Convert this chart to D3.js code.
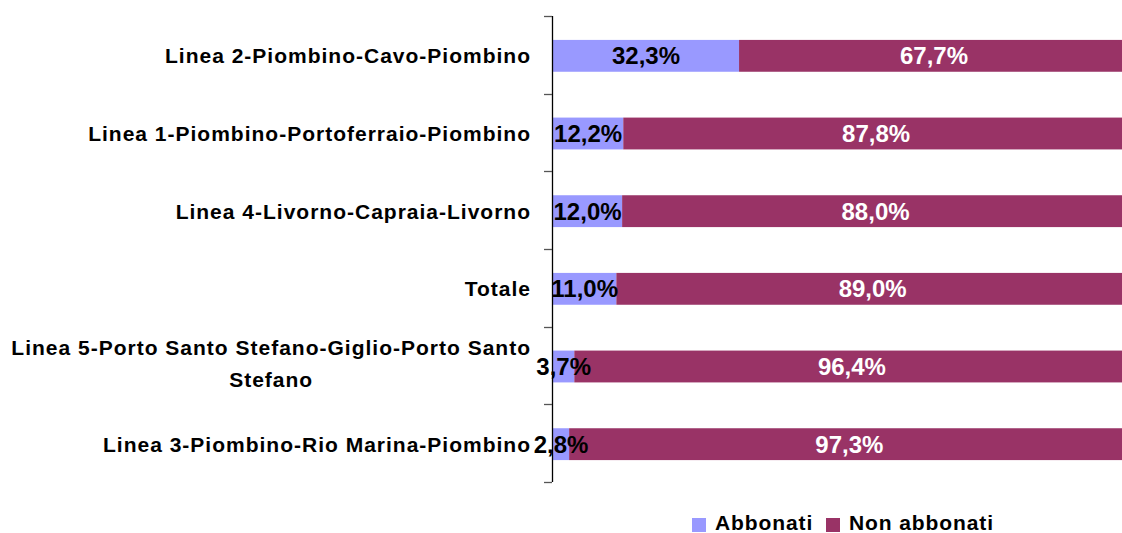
<!DOCTYPE html>
<html>
<head>
<meta charset="utf-8">
<script src="https://cdn.jsdelivr.net/npm/d3@7"></script>
<style>
	body { margin: 0; background: #fff; }
	svg { display: block; }
</style>
</head>
<body>
<div id="chart"></div>
<script>
var categories = [
	"Linea 2-Piombino-Cavo-Piombino",
	"Linea 1-Piombino-Portoferraio-Piombino",
	"Linea 4-Livorno-Capraia-Livorno",
	"Totale",
	"Linea 5-Porto Santo Stefano-Giglio-Porto Santo Stefano",
	"Linea 3-Piombino-Rio Marina-Piombino"
];
var abbonati = [32.3, 12.2, 12.0, 11.0, 3.7, 2.8];
var nonAbbonati = [67.7, 87.8, 88.0, 89.0, 96.4, 97.3];
var seriesNames = ["Abbonati", "Non abbonati"];

var width = 1122,
	height = 533;

var colors = ["#9999ff", "#993366"],
	labelColors = ["#000", "#fff"],
	fontFamily = "'Liberation Sans', Arial, Helvetica, sans-serif";

var svg = d3.select("#chart").append("svg")
	.attr("width", width)
	.attr("height", height);

var x = d3.scaleLinear()
	.domain([0, 100])
	.range([553, 1129]);

var y = d3.scaleBand()
	.domain(categories)
	.range([16, 482])
	.paddingInner(0.59)
	.paddingOuter(0.295);

var rows = categories.map(function(c, i) {
	return { cat: c, values: [abbonati[i], nonAbbonati[i]] };
});

var group = svg.append("g");

// stacked segments
rows.forEach(function(row) {
	var start = 0;
	row.values.forEach(function(v, k) {
		var x0 = x(start), x1 = x(start + v);
		group.append("rect")
			.attr("x", x0)
			.attr("y", y(row.cat) + 1)
			.attr("width", x1 - x0)
			.attr("height", y.bandwidth())
			.style("fill", colors[k]);
		start += v;
	});
});

// data labels
rows.forEach(function(row) {
	var start = 0;
	row.values.forEach(function(v, k) {
		group.append("text")
			.attr("x", (x(start) + x(start + v)) / 2)
			.attr("y", y(row.cat) + 1 + y.bandwidth() / 2)
			.attr("dy", "0.36em")
			.style("fill", labelColors[k])
			.style("font-family", fontFamily)
			.style("font-weight", "bold")
			.style("font-size", "24px")
			.style("text-anchor", "middle")
			.text(d3.format(".1f")(v).replace(".", ",") + "%");
		start += v;
	});
});

// axis line with ticks on band boundaries
var boundaries = categories.map(function(c) { return y(c) - y.step() * y.paddingInner() / 2; });
boundaries.push(y.range()[1]);

group.append("line")
	.attr("x1", 552.5)
	.attr("x2", 552.5)
	.attr("y1", y.range()[0])
	.attr("y2", y.range()[1])
	.style("stroke", "#000")
	.style("stroke-width", 1.3);

boundaries.forEach(function(b) {
	group.append("line")
		.attr("x1", 544)
		.attr("x2", 552)
		.attr("y1", Math.round(b) + 0.5)
		.attr("y2", Math.round(b) + 0.5)
		.style("stroke", "#555")
		.style("stroke-width", 1.3);
});

// category labels, wrapped and centred as a block aligned right
var maxLabel = 528;
categories.forEach(function(c) {
	var text = group.append("text")
		.style("fill", "#000")
		.style("font-family", fontFamily)
		.style("font-weight", "bold")
		.style("font-size", "21px")
		.style("letter-spacing", "1px")
		.style("text-anchor", "middle");

	var words = c.split(" "),
		lines = [],
		current = [];
	var probe = text.append("tspan");
	words.forEach(function(w) {
		current.push(w);
		probe.text(current.join(" "));
		if (probe.node().getComputedTextLength() > maxLabel && current.length > 1) {
			current.pop();
			lines.push(current.join(" "));
			current = [w];
		}
	});
	lines.push(current.join(" "));
	probe.remove();

	var widths = lines.map(function(l) {
		var t = text.append("tspan").text(l);
		var wdt = t.node().getComputedTextLength();
		t.remove();
		return wdt;
	});
	var blockWidth = d3.max(widths);
	var cx = 531 - blockWidth / 2;
	var cy = y(c) + 1 + y.bandwidth() / 2;
	if (lines.length > 1) cy -= 3;
	var lineHeight = 32;
	lines.forEach(function(l, i) {
		text.append("tspan")
			.attr("x", cx)
			.attr("y", cy + (i - (lines.length - 1) / 2) * lineHeight)
			.attr("dy", "0.36em")
			.text(l);
	});
});

// legend
var legend = svg.append("g");
var legendX = [692, 826];
seriesNames.forEach(function(name, k) {
	legend.append("rect")
		.attr("x", legendX[k])
		.attr("y", 518)
		.attr("width", 14)
		.attr("height", 14)
		.style("fill", colors[k]);
	legend.append("text")
		.attr("x", legendX[k] + 23)
		.attr("y", 530)
		.style("fill", "#000")
		.style("font-family", fontFamily)
		.style("font-weight", "bold")
		.style("font-size", "21px")
		.style("letter-spacing", "0.9px")
		.text(name);
});
</script>
</body>
</html>
